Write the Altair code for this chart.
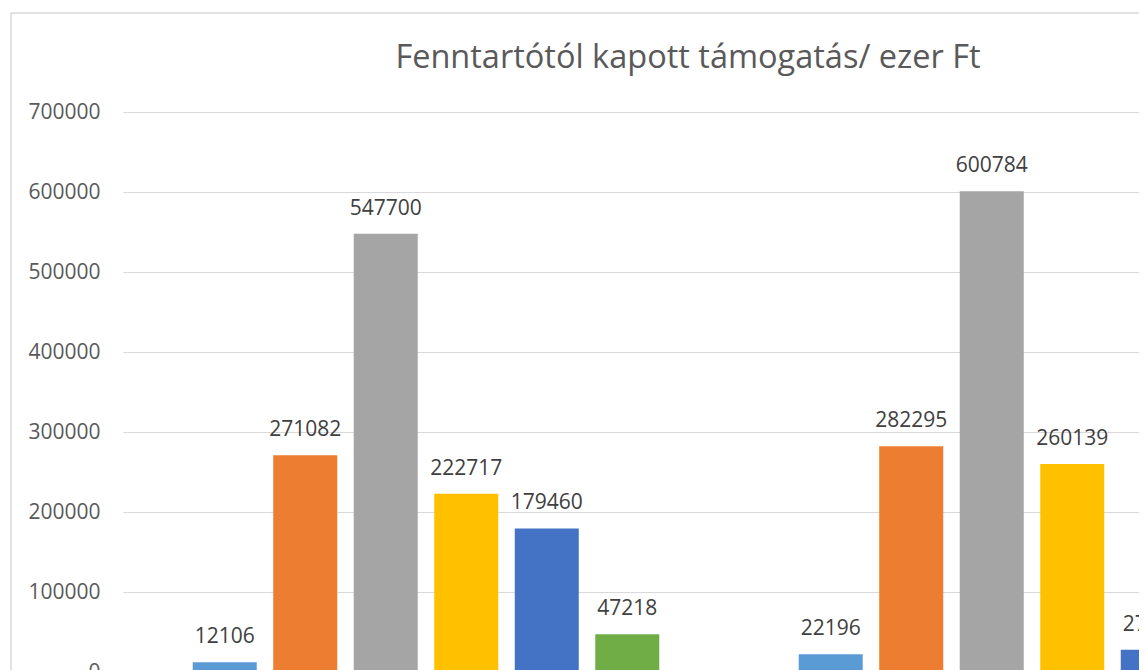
import altair as alt
import pandas as pd

groups = ["1. év", "2. év"]
series = ["Adatsor1", "Adatsor2", "Adatsor3", "Adatsor4", "Adatsor5", "Adatsor6"]
values_g1 = [12106, 271082, 547700, 222717, 179460, 47218]
values_g2 = [22196, 282295, 600784, 260139, 27900, 51000]
colors = ["#5B9BD5", "#ED7D31", "#A5A5A5", "#FFC000", "#4472C4", "#70AD47"]
y_ticks = [0, 100000, 200000, 300000, 400000, 500000, 600000, 700000]
title_text = "Fenntartótól kapott támogatás/ ezer Ft"

rows = []
for g, vals in zip(groups, [values_g1, values_g2]):
    for s, v in zip(series, vals):
        rows.append({"group": g, "series": s, "value": v})
df = pd.DataFrame(rows)

W, H = 1016, 560      # visible plot area (the right part of the chart is cut off)
FULL_W = 1212         # full width of the two category bands
FONT = "Open Sans"

base = alt.Chart(df)

x = alt.X("group:N", sort=groups,
          scale=alt.Scale(paddingInner=0, paddingOuter=0, range=[0, FULL_W]),
          axis=alt.Axis(title=None, labels=True, ticks=False, domain=True,
                        domainColor="#D9D9D9", labelColor="#595959",
                        labelFontSize=21, labelFont=FONT, labelAngle=0, grid=False))
xo = alt.XOffset("series:N", sort=series,
                 scale=alt.Scale(paddingInner=0.205, paddingOuter=0.866))
y = alt.Y("value:Q", scale=alt.Scale(domain=[0, 700000]),
          axis=alt.Axis(title=None, values=y_ticks, format="d", grid=True,
                        gridColor="#D9D9D9", gridWidth=1, domain=False, ticks=False,
                        labelPadding=23, labelFontSize=21, labelFont=FONT,
                        labelColor="#595959"))

bars = base.mark_bar(clip=True).encode(
    x=x, xOffset=xo, y=y,
    color=alt.Color("series:N", sort=series,
                    scale=alt.Scale(domain=series, range=colors), legend=None),
)

labels = base.mark_text(baseline="alphabetic", dy=-19, fontSize=21, font=FONT,
                        color="#404040").encode(
    x=alt.X("group:N", sort=groups), xOffset=xo, y="value:Q",
    text=alt.Text("value:Q", format="d"),
)

one = alt.Data(values=[{}])
border_top = alt.Chart(one).mark_rule(stroke="#D9D9D9", strokeWidth=1.5).encode(
    x=alt.value(-112), x2=alt.value(W), y=alt.value(-99))
border_left = alt.Chart(one).mark_rule(stroke="#D9D9D9", strokeWidth=1.5).encode(
    x=alt.value(-112), y=alt.value(-99), y2=alt.value(H + 20))

title = alt.Chart(one).mark_text(fontSize=32.5, font=FONT, color="#595959",
                                 baseline="alphabetic", align="center").encode(
    x=alt.value(565), y=alt.value(-44), text=alt.value(title_text))

chart = alt.layer(border_top, border_left, bars, labels, title).properties(
    width=W, height=H,
    autosize=alt.AutoSizeParams(type="none"),
    padding={"left": 115, "top": 104, "right": 0, "bottom": 0},
).configure_view(stroke=None)

chart.save("out.html", embed_options={"renderer": "svg", "actions": False})
